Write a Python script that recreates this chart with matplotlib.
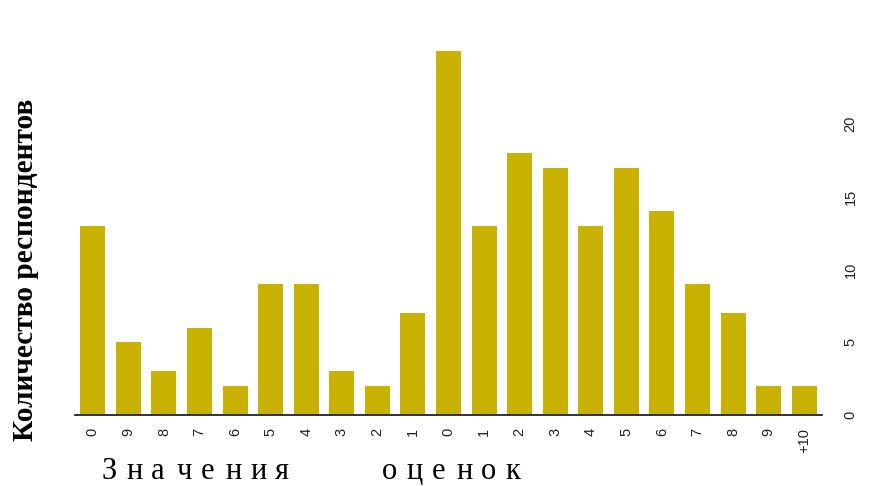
import matplotlib
matplotlib.use("Agg")
import matplotlib.pyplot as plt

categories = ["0", "9", "8", "7", "6", "5", "4", "3", "2", "1", "0",
              "1", "2", "3", "4", "5", "6", "7", "8", "9", "+10"]
counts = [13, 5, 3, 6, 2, 9, 9, 3, 2, 7, 25, 13, 18, 17, 13, 17, 14, 9, 7, 2, 2]
yticks = [0, 5, 10, 15, 20]
xlabel_words = ["Значения", "оценок"]
ylabel = "Количество респондентов"

W, H = 881, 486
fig = plt.figure(figsize=(W / 100, H / 100), dpi=100)
left, right, bottom, top = 75, 822, 415, 44
ax = fig.add_axes([left / W, 1 - bottom / H, (right - left) / W, (bottom - top) / H])

x = list(range(len(categories)))
ax.bar(x, counts, width=0.7, color="#C9B100")
ax.set_xlim(-0.5, len(categories) - 0.5)
ax.set_ylim(0, 25.5)

for s in ["top", "left", "right"]:
    ax.spines[s].set_visible(False)
ax.spines["bottom"].set_linewidth(1.3)
ax.spines["bottom"].set_color("#222222")

ax.set_xticks(x)
ax.set_xticklabels(categories, rotation=90, fontsize=10.5, family="Liberation Sans", color="#222222")
ax.tick_params(axis="x", length=0, pad=9)

ax.yaxis.tick_right()
ax.set_yticks(yticks)
ax.set_yticklabels([str(v) for v in yticks], rotation=90, va="center",
                   fontsize=10.5, family="Liberation Sans", color="#222222")
ax.tick_params(axis="y", length=0, pad=15.5)

# letter-spaced x label
word_starts = [101.7, 381.7]
advance = 24.8
for word, x0 in zip(xlabel_words, word_starts):
    for i, ch in enumerate(word):
        fig.text((x0 + i * advance) / W, 1 - 479 / H, ch,
                 family="Liberation Serif", fontsize=22, ha="left", va="baseline")

fig.text(26 / W, 1 - 270 / H, ylabel, rotation=90,
         family="Liberation Serif", fontweight="bold", fontsize=21.2,
         ha="center", va="center")

fig.savefig("out.png", dpi=100)
